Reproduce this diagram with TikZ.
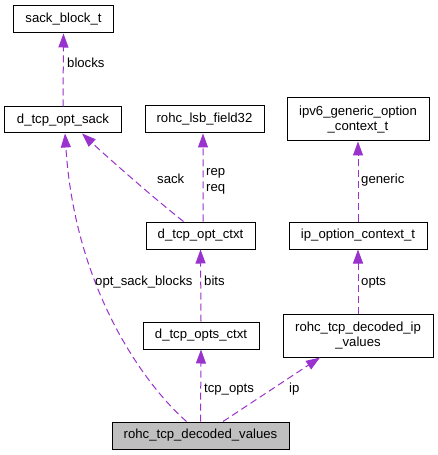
\documentclass[tikz,border=0pt]{standalone}
\usepackage{fontspec}
\setmainfont{Liberation Sans}
\usetikzlibrary{arrows.meta}
\definecolor{edgepurple}{HTML}{9A32CD}
\definecolor{mainfill}{HTML}{BFBFBF}
\begin{document}
\begin{tikzpicture}[x=1bp,y=-1bp,
  font=\fontsize{13.2}{15}\selectfont,
  box/.style={draw=black, line width=1bp, inner sep=0pt, align=center, fill=white},
  edge/.style={draw=edgepurple, line width=1bp, dash pattern=on 7bp off 4bp,
    -{Triangle[length=14bp,width=10bp,fill=edgepurple]}},
  lbl/.style={anchor=base west, inner sep=0pt}]
\fill[white] (0,0) rectangle (438,455);
\useasboundingbox (0,0) rectangle (438,455);
\node[box, minimum width=99bp, minimum height=27bp] (sbt) at (63.5,19.5) {sack\_block\_t};
\node[box, minimum width=116bp, minimum height=26bp] (sack) at (63,120) {d\_tcp\_opt\_sack};
\node[box, minimum width=119bp, minimum height=27bp] (lsb) at (204.5,119.5) {rohc\_lsb\_field32};
\node[box, minimum width=142bp, minimum height=43bp] (ipv6) at (358,119.5) {ipv6\_generic\_option\\\_context\_t};
\node[box, minimum width=109bp, minimum height=27bp] (ctxt) at (200.5,235.5) {d\_tcp\_opt\_ctxt};
\node[box, minimum width=138bp, minimum height=27bp] (ipopt) at (358,235.5) {ip\_option\_context\_t};
\node[box, minimum width=116bp, minimum height=27bp] (opts) at (201,335.5) {d\_tcp\_opts\_ctxt};
\node[box, minimum width=150bp, minimum height=43bp] (ipv) at (358,335.5) {rohc\_tcp\_decoded\_ip\\\_values};
\node[box, fill=mainfill, minimum width=177bp, minimum height=27bp] (main) at (200.5,435.5) {rohc\_tcp\_decoded\_values};

\draw[edge] (sack.north) -- (sbt.south);
\draw[edge] ([xshift=-14bp]main.north) .. controls (145,385) and (75,290) .. ([xshift=2bp]sack.south);
\draw[edge] ([xshift=-17bp]ctxt.north) .. controls (150,195) and (105,155) .. ([xshift=19bp]sack.south);
\draw[edge] ([xshift=2.5bp]ctxt.north) -- ([xshift=-1.5bp]lsb.south);
\draw[edge] (opts.north) -- (ctxt.south);
\draw[edge] (main.north) -- (opts.south);
\draw[edge] (ipopt.north) -- (ipv6.south);
\draw[edge] (ipv.north) -- (ipopt.south);
\draw[edge] ([xshift=22.5bp]main.north) -- ([xshift=-38bp]ipv.south);

\node[lbl] (lblocks) at (67,68) {blocks};
\node[lbl] (lsack) at (157,184) {sack};
\node[lbl] (lrep) at (206,176) {rep};
\node[lbl] (lreq) at (206,192) {req};
\node[lbl] (lgen) at (361,184) {generic};
\node[lbl] (losb) at (95,285) {opt\_sack\_blocks};
\node[lbl] (lbits) at (204,285) {bits};
\node[lbl] (lopts) at (361,285) {opts};
\node[lbl] (ltcp) at (204,392) {tcp\_opts};
\node[lbl] (lip) at (289,392) {ip};
\end{tikzpicture}
\end{document}
